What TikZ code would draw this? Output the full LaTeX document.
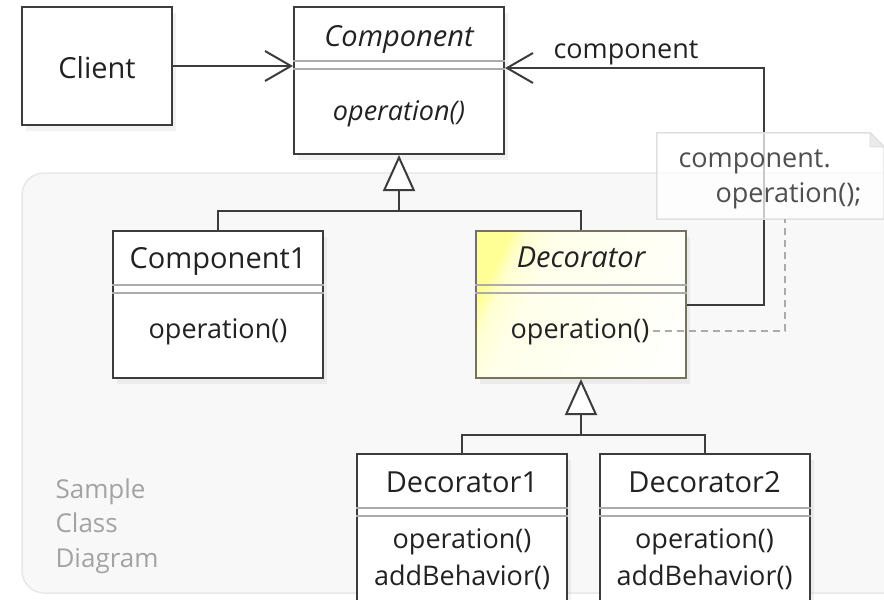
\documentclass[tikz,border=0pt]{standalone}
\usepackage{fontspec}
\setmainfont{Open Sans}
\usepackage{tikz}
\usetikzlibrary{arrows.meta,calc,shadows}
\definecolor{Ink}{HTML}{222222}
\definecolor{Edge}{HTML}{3C3C3C}
\definecolor{Rule}{HTML}{ABABAB}
\definecolor{Paper}{HTML}{F8F8F8}
\definecolor{PaperEdge}{HTML}{E8E8E8}
\definecolor{Lemon}{HTML}{FFFF96}
\definecolor{Butter}{HTML}{FFFFD2}
\definecolor{Cream}{HTML}{FFFFEA}
\definecolor{Milk}{HTML}{FFFFFB}
\definecolor{Olive}{HTML}{74735E}
\definecolor{Caption}{HTML}{A3A3A3}
\definecolor{NoteInk}{HTML}{4F4F4F}
\definecolor{NoteEdge}{HTML}{E0E0E0}
\definecolor{Fold}{HTML}{EAEAEA}
\pgfdeclarehorizontalshading{decofade}{100bp}{color(0bp)=(Lemon); color(25bp)=(Lemon);
  color(29bp)=(Butter); color(36bp)=(Cream); color(75bp)=(Milk); color(100bp)=(Milk)}
\tikzset{
  classbox/.style={draw=Edge,line width=2pt,fill=white,minimum width=210pt,inner sep=0pt,
    drop shadow={shadow xshift=4pt,shadow yshift=-6pt,opacity=0.10}},
  decobox/.style={classbox,draw=Olive,shading=decofade,shading angle=-25},
  classname/.style={anchor=base,text=Ink,font=\fontsize{29}{34}\selectfont},
  opname/.style={anchor=base,text=Ink,font=\fontsize{27}{32}\selectfont},
  rolelabel/.style={anchor=base west,text=Ink,font=\fontsize{27}{32}\selectfont},
  notetext/.style={anchor=base west,text=NoteInk,font=\fontsize{27}{32}\selectfont},
  captiontext/.style={anchor=base west,text=Caption,font=\fontsize{26}{32}\selectfont},
  sepline/.style={draw=Rule,line width=2pt},
  plainline/.style={draw=Edge,line width=2pt},
  assoc/.style={-{Straight Barb[length=26pt,width=30pt]},line width=2pt,draw=Edge},
  inherit/.style={-{Triangle[length=36pt,width=32pt,fill=white]},line width=2pt,draw=Edge},
  notelink/.style={draw=Rule,line width=2pt,dash pattern=on 7pt off 5pt},
  notebox/.style={draw=none,minimum width=227pt,minimum height=86pt,inner sep=0pt},
  panel/.style={draw=PaperEdge,fill=Paper,line width=1.5pt,rounded corners=22pt},
}

\begin{document}
\begin{tikzpicture}[x=1pt,y=-1pt]
    \useasboundingbox (0,0) rectangle (884,600);
    \draw[panel] (22,173) rectangle (910,593);

    \node[captiontext] (capsample) at (52,498) {Sample};
    \node[captiontext] (capclass) at (52,532) {Class};
    \node[captiontext] (capdiagram) at (52,567) {Diagram};

    \node[classbox,minimum width=150pt,minimum height=118pt] (client) at (97,66) {};
    \node[classname] (clientname) at (97,78) {Client};

    \node[classbox,minimum height=147pt] (comp) at (399,80.5) {};
    \node[classname,font=\fontsize{29}{34}\selectfont\itshape] (compname) at (399,46) {Component};
    \node[opname,font=\fontsize{27}{32}\selectfont\itshape] (compop) at (399,120) {operation()};

    \node[classbox,minimum height=147pt] (comp1) at (218,304.5) {};
    \node[classname] (comp1name) at (218,268) {Component1};
    \node[opname] (comp1op) at (218,338) {operation()};

    \node[decobox,minimum height=147pt] (deco) at (581,304.5) {};
    \node[classname,font=\fontsize{29}{34}\selectfont\itshape] (deconame) at (581,267) {Decorator};
    \node[opname] (decoop) at (580,338) {operation()};

    \node[classbox,minimum height=166pt] (deco1) at (462,537) {};
    \node[classname] (deco1name) at (462,492) {Decorator1};
    \node[opname] (deco1op) at (462,548) {operation()};
    \node[opname] (deco1add) at (462,585) {addBehavior()};

    \node[classbox,minimum height=166pt] (deco2) at (704.5,537) {};
    \node[classname] (deco2name) at (704.5,492) {Decorator2};
    \node[opname] (deco2op) at (704.5,548) {operation()};
    \node[opname] (deco2add) at (704.5,585) {addBehavior()};

    \foreach \cls in {comp,comp1,deco,deco1,deco2} {
      \draw[sepline] ([yshift=-55pt]\cls.north west) -- ([yshift=-55pt]\cls.north east);
      \draw[sepline] ([yshift=-63pt]\cls.north west) -- ([yshift=-63pt]\cls.north east);
    }

    \draw[assoc] (client.east) -- (client.east -| comp.west);

    \coordinate (split1) at ($(comp.south)+(0,56)$);
    \draw[plainline] (comp1.north) |- (split1) -| (deco.north);
    \draw[inherit] (split1) -- (comp.south);

    \coordinate (split2) at ($(deco.south)+(0,56)$);
    \draw[plainline] (deco1.north) |- (split2) -| (deco2.north);
    \draw[inherit] (split2) -- (deco.south);

    \coordinate (bend) at (764,68);
    \draw[assoc] (deco.east) -| (bend) -- (bend -| comp.east);
    \node[rolelabel] (role) at (550,58) {component};

    \node[notebox] (note) at (770.5,176) {};
    \draw[draw=NoteEdge,fill=white,fill opacity=0.72,line width=1.5pt]
      (note.north west) -- ([xshift=-14pt]note.north east) -- ([yshift=-14pt]note.north east)
      -- (note.south east) -- (note.south west) -- cycle;
    \draw[draw=NoteEdge,fill=Fold,line width=1pt] ([xshift=-14pt]note.north east)
      -- ([xshift=-14pt,yshift=-14pt]note.north east) -- ([yshift=-14pt]note.north east) -- cycle;
    \node[notetext] (noteline1) at (675,167) {component.};
    \node[notetext] (noteline2) at (712,202) {operation();};
    \draw[notelink] (decoop.east) -| ([xshift=14.5pt]note.south);
\end{tikzpicture}
\end{document}
